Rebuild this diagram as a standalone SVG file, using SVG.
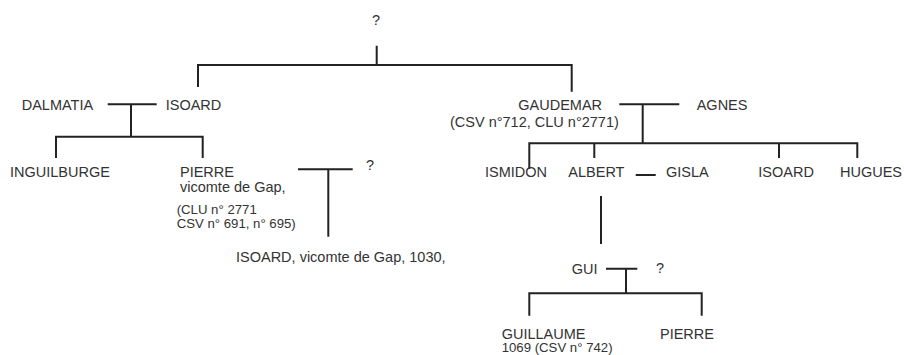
<svg xmlns="http://www.w3.org/2000/svg" width="904" height="355" viewBox="0 0 904 355">
<style>
text{font-family:"Liberation Sans",Arial,Helvetica,sans-serif;font-size:14.5px;fill:#333}
text.s{font-size:13.2px}
.c path{fill:none;stroke:#222;stroke-width:2}
</style>
<rect width="904" height="355" fill="#fff"/>
<g class="c" id="connectors">
<path d="M376.7 45.7V65M198 87V65H571.7V91.7"/>
<path d="M107.7 104.3H156.7M131 104.3V136.7M56 158V136.7H202.7V158"/>
<path d="M298 169.3H352.7M328.3 169.3V236.7"/>
<path d="M619.3 104.3H679.3M642.7 104.3V143.3M529.3 169V143.3H857.3V158M594.3 143.3V158M779 143.3V158"/>
<path d="M635.7 175H655.7"/>
<path d="M601 196V244"/>
<path d="M606 268.7H637.3M626 268.7V293.3M529.3 315.7V293.3H701.7V315.7"/>
</g>
<g id="n-top"><text x="376" y="25" text-anchor="middle">?</text></g>
<g id="n-dalmatia"><text x="21.7" y="110">DALMATIA</text></g>
<g id="n-isoard1"><text x="165.7" y="110">ISOARD</text></g>
<g id="n-gaudemar"><text x="518.3" y="110">GAUDEMAR</text><text x="450" y="127">(CSV n°712, CLU n°2771)</text></g>
<g id="n-agnes"><text x="696.7" y="110">AGNES</text></g>
<g id="n-inguilburge"><text x="10" y="176.5">INGUILBURGE</text></g>
<g id="n-pierre1"><text x="180" y="176.5">PIERRE</text><text x="180" y="191.5">vicomte de Gap,</text><text class="s" x="176.7" y="214">(CLU n° 2771</text><text class="s" x="176.7" y="228">CSV n° 691, n° 695)</text></g>
<g id="n-q2"><text x="370" y="170" text-anchor="middle">?</text></g>
<g id="n-isoard2"><text x="236" y="261.5">ISOARD, vicomte de Gap, 1030,</text></g>
<g id="n-ismidon"><text x="485" y="177">ISMIDON</text></g>
<g id="n-albert"><text x="568.3" y="177">ALBERT</text></g>
<g id="n-gisla"><text x="666" y="177">GISLA</text></g>
<g id="n-isoard3"><text x="758.3" y="177">ISOARD</text></g>
<g id="n-hugues"><text x="840" y="177">HUGUES</text></g>
<g id="n-gui"><text x="571.7" y="274">GUI</text></g>
<g id="n-q3"><text x="660" y="273" text-anchor="middle">?</text></g>
<g id="n-guillaume"><text x="501.7" y="338.5">GUILLAUME</text><text class="s" x="501.7" y="352">1069 (CSV n° 742)</text></g>
<g id="n-pierre2"><text x="660" y="338.5">PIERRE</text></g>
</svg>
